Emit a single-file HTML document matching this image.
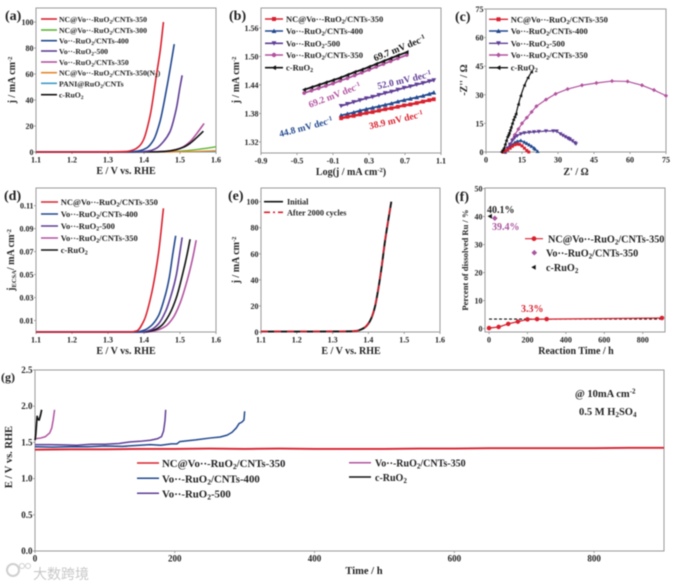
<!DOCTYPE html>
<html>
<head>
<meta charset="utf-8">
<style>
html,body{margin:0;padding:0;background:#fff;width:680px;height:586px;overflow:hidden}
svg{display:block;filter:blur(.45px)}
text{font-family:"Liberation Serif","Noto Serif CJK SC",serif;font-weight:bold;fill:#222}
.l8{font-size:7.7px}.l9{font-size:8.5px}.t{font-size:10px}.s{font-size:9.5px}.p{font-size:14px}.g{font-size:10.8px}.f{font-size:10.2px}
</style>
</head>
<body>
<svg id="figure" width="680" height="586" viewBox="0 0 680 586" xmlns="http://www.w3.org/2000/svg">
<g id="marks"></g>
<g>
<text class="p" x="5" y="20">(a)</text>
<text class="p" x="229" y="20">(b)</text>
<text class="p" x="455" y="21">(c)</text>
<text class="p" x="4" y="200">(d)</text>
<text class="p" x="228" y="200">(e)</text>
<text class="p" x="455" y="201">(f)</text>
<text style="font-size:12px" x="1" y="381">(g)</text>
</g>
<g>
<text class="t" x="126" y="174" text-anchor="middle">E / V vs. RHE</text>
<text class="t" transform="translate(15,80) rotate(-90)" text-anchor="middle">j / mA cm<tspan dy="-3" font-size="6.5">-2</tspan></text>
<text class="t" x="351" y="175" text-anchor="middle">Log(j / mA cm<tspan dy="-3" font-size="6.5">-2</tspan><tspan dy="3">)</tspan></text>
<text class="t" transform="translate(239,80) rotate(-90)" text-anchor="middle">j / mA cm<tspan dy="-3" font-size="6.5">-2</tspan></text>
<text class="t" x="576" y="175" text-anchor="middle">Z' / Ω</text>
<text class="t" transform="translate(467,80) rotate(-90)" text-anchor="middle">-Z'' / Ω</text>
<text class="t" x="126" y="354" text-anchor="middle">E / V vs. RHE</text>
<text class="t" transform="translate(14,260) rotate(-90)" text-anchor="middle">j<tspan dy="2" font-size="6.5">ECSA</tspan><tspan dy="-2">/ mA cm</tspan><tspan dy="-3" font-size="6.5">-2</tspan></text>
<text class="t" x="351" y="354" text-anchor="middle">E / V vs. RHE</text>
<text class="t" transform="translate(239,260) rotate(-90)" text-anchor="middle">j / mA cm<tspan dy="-3" font-size="6.5">-2</tspan></text>
<text class="t" x="576" y="354" text-anchor="middle">Reaction Time / h</text>
<text style="font-size:8.6px" transform="translate(468,260) rotate(-90)" text-anchor="middle">Percent of dissolved Ru / %</text>
<text style="font-size:10.5px" x="364" y="574" text-anchor="middle">Time / h</text>
<text style="font-size:10.5px" transform="translate(12,457) rotate(-90)" text-anchor="middle">E / V vs. RHE</text>
</g>
<g>
<path d="M41 19H57" stroke="#d9202e" stroke-width="1.6"/><path d="M41 30H57" stroke="#5cb531" stroke-width="1.6"/><path d="M41 40.7H57" stroke="#21488f" stroke-width="1.6"/><path d="M41 51H57" stroke="#5f3e96" stroke-width="1.6"/><path d="M41 62H57" stroke="#b2529f" stroke-width="1.6"/><path d="M41 72.7H57" stroke="#e8872b" stroke-width="1.6"/><path d="M41 83.3H57" stroke="#3d9cc9" stroke-width="1.6"/><path d="M41 94.7H57" stroke="#111" stroke-width="1.6"/>
<text class="l8" x="59" y="22">NC@Vo··-RuO<tspan dy="1.5" font-size="5.5">2</tspan><tspan dy="-1.5">/CNTs-350</tspan></text>
<text class="l8" x="59" y="33">NC@Vo··-RuO<tspan dy="1.5" font-size="5.5">2</tspan><tspan dy="-1.5">/CNTs-300</tspan></text>
<text class="l8" x="59" y="43.7">Vo··-RuO<tspan dy="1.5" font-size="5.5">2</tspan><tspan dy="-1.5">/CNTs-400</tspan></text>
<text class="l8" x="59" y="54">Vo··-RuO<tspan dy="1.5" font-size="5.5">2</tspan><tspan dy="-1.5">-500</tspan></text>
<text class="l8" x="59" y="65">Vo··-RuO<tspan dy="1.5" font-size="5.5">2</tspan><tspan dy="-1.5">/CNTs-350</tspan></text>
<text class="l8" x="59" y="75.7">NC@Vo··-RuO<tspan dy="1.5" font-size="5.5">2</tspan><tspan dy="-1.5">/CNTs-350(N</tspan><tspan dy="1.5" font-size="5.5">2</tspan><tspan dy="-1.5">)</tspan></text>
<text class="l8" x="59" y="86.3">PANI@RuO<tspan dy="1.5" font-size="5.5">2</tspan><tspan dy="-1.5">/CNTs</tspan></text>
<text class="l8" x="59" y="97.7">c-RuO<tspan dy="1.5" font-size="5.5">2</tspan></text>
</g>
<g>
<path d="M265 19H283" stroke="#d9202e" stroke-width="1.6"/><rect x="272" y="17" width="4" height="4" fill="#d9202e"/>
<path d="M265 31H283" stroke="#21488f" stroke-width="1.6"/><polygon points="274,28.6 276.4,33 271.6,33" fill="#21488f"/>
<path d="M265 43.3H283" stroke="#5f3e96" stroke-width="1.6"/><polygon points="274,45.7 276.4,41.3 271.6,41.3" fill="#5f3e96"/>
<path d="M265 55H283" stroke="#b2529f" stroke-width="1.6"/><circle cx="274" cy="55" r="2.2" fill="#b2529f"/>
<path d="M265 67.7H283" stroke="#111" stroke-width="1.6"/><polygon points="271.6,67.7 276,65.3 276,70.1" fill="#111"/>
<text class="l9" x="286" y="22">NC@Vo··-RuO<tspan dy="1.5" font-size="6">2</tspan><tspan dy="-1.5">/CNTs-350</tspan></text>
<text class="l9" x="286" y="34">Vo··-RuO<tspan dy="1.5" font-size="6">2</tspan><tspan dy="-1.5">/CNTs-400</tspan></text>
<text class="l9" x="286" y="46.3">Vo··-RuO<tspan dy="1.5" font-size="6">2</tspan><tspan dy="-1.5">-500</tspan></text>
<text class="l9" x="286" y="58">Vo··-RuO<tspan dy="1.5" font-size="6">2</tspan><tspan dy="-1.5">/CNTs-350</tspan></text>
<text class="l9" x="286" y="70.7">c-RuO<tspan dy="1.5" font-size="6">2</tspan></text>
</g>
<g>
<text class="s" style="fill:#111" transform="translate(400.7,51) rotate(-22)" text-anchor="middle">69.7 mV dec<tspan dy="-3" font-size="6.5">-1</tspan></text>
<text class="s" style="fill:#b2529f" transform="translate(335.7,98) rotate(-21)" text-anchor="middle">69.2 mV dec<tspan dy="-3" font-size="6.5">-1</tspan></text>
<text class="s" style="fill:#5f3e96" transform="translate(405,83) rotate(-13)" text-anchor="middle">52.0 mV dec<tspan dy="-3" font-size="6.5">-1</tspan></text>
<text class="s" style="fill:#21488f" transform="translate(306.7,130) rotate(-15)" text-anchor="middle">44.8 mV dec<tspan dy="-3" font-size="6.5">-1</tspan></text>
<text class="s" style="fill:#d9202e" transform="translate(396.7,123) rotate(-13)" text-anchor="middle">38.9 mV dec<tspan dy="-3" font-size="6.5">-1</tspan></text>
</g>
<g>
<path d="M489 19.3H508" stroke="#d9202e" stroke-width="1.4"/><rect x="496.5" y="17.3" width="4" height="4" fill="#d9202e"/>
<path d="M489 31H508" stroke="#21488f" stroke-width="1.4"/><polygon points="498.5,28.6 500.9,33 496.1,33" fill="#21488f"/>
<path d="M489 43.3H508" stroke="#5f3e96" stroke-width="1.4"/><polygon points="498.5,45.7 500.9,41.3 496.1,41.3" fill="#5f3e96"/>
<path d="M489 55H508" stroke="#b2529f" stroke-width="1.4"/><polygon points="498.5,52.5 501,55 498.5,57.5 496,55" fill="#b2529f"/>
<path d="M489 67.7H508" stroke="#111" stroke-width="1.4"/><polygon points="496,67.7 500.4,65.3 500.4,70.1" fill="#111"/>
<text class="l9" x="510.7" y="22.3">NC@Vo··-RuO<tspan dy="1.5" font-size="6">2</tspan><tspan dy="-1.5">/CNTs-350</tspan></text>
<text class="l9" x="510.7" y="34">Vo··-RuO<tspan dy="1.5" font-size="6">2</tspan><tspan dy="-1.5">/CNTs-400</tspan></text>
<text class="l9" x="510.7" y="46.3">Vo··-RuO<tspan dy="1.5" font-size="6">2</tspan><tspan dy="-1.5">-500</tspan></text>
<text class="l9" x="510.7" y="58">Vo··-RuO<tspan dy="1.5" font-size="6">2</tspan><tspan dy="-1.5">/CNTs-350</tspan></text>
<text class="l9" x="510.7" y="70.7">c-RuO<tspan dy="1.5" font-size="6">2</tspan></text>
</g>
<g>
<path d="M41 202H58" stroke="#d9202e" stroke-width="1.6"/><path d="M41 214H58" stroke="#21488f" stroke-width="1.6"/><path d="M41 226H58" stroke="#5f3e96" stroke-width="1.6"/><path d="M41 238H58" stroke="#b2529f" stroke-width="1.6"/><path d="M41 250H58" stroke="#111" stroke-width="1.6"/>
<text class="l9" x="60.7" y="205">NC@Vo··-RuO<tspan dy="1.5" font-size="6">2</tspan><tspan dy="-1.5">/CNTs-350</tspan></text>
<text class="l9" x="60.7" y="217">Vo··-RuO<tspan dy="1.5" font-size="6">2</tspan><tspan dy="-1.5">/CNTs-400</tspan></text>
<text class="l9" x="60.7" y="229">Vo··-RuO<tspan dy="1.5" font-size="6">2</tspan><tspan dy="-1.5">-500</tspan></text>
<text class="l9" x="60.7" y="241">Vo··-RuO<tspan dy="1.5" font-size="6">2</tspan><tspan dy="-1.5">/CNTs-350</tspan></text>
<text class="l9" x="60.7" y="253">c-RuO<tspan dy="1.5" font-size="6">2</tspan></text>
</g>
<g>
<path d="M264 201.7H283" stroke="#111" stroke-width="1.6"/>
<path d="M264 212.3H283" stroke="#d9202e" stroke-width="1.6" stroke-dasharray="6 3 2 3"/>
<text style="font-size:8.2px" x="287" y="204.7">Initial</text>
<text style="font-size:8.2px" x="287" y="215.3">After 2000 cycles</text>
</g>
<g>
<path d="M525 238.7H543" stroke="#d9202e" stroke-width="1.2"/><circle cx="534" cy="238.7" r="2.4" fill="#d9202e"/>
<polygon points="534.3,249.9 537.1,252.7 534.3,255.5 531.5,252.7" fill="#a9559f"/>
<polygon points="531.3,267.3 535.7,264.9 535.7,269.7" fill="#111"/>
<text class="f" x="548" y="242.5">NC@Vo··-RuO<tspan dy="2" font-size="7">2</tspan><tspan dy="-2">/CNTs-350</tspan></text>
<text class="f" x="546" y="256.5">Vo··-RuO<tspan dy="2" font-size="7">2</tspan><tspan dy="-2">/CNTs-350</tspan></text>
<text class="f" x="546" y="271">c-RuO<tspan dy="2" font-size="7">2</tspan></text>
<text style="font-size:10px;fill:#222" x="487" y="213">40.1%</text>
<text style="font-size:10px;fill:#a9559f" x="492" y="230">39.4%</text>
<text style="font-size:10px;fill:#d9202e" x="521" y="312">3.3%</text>
</g>
<g>
<path d="M137 463H159" stroke="#d9202e" stroke-width="1.5"/><path d="M137 478.3H159" stroke="#21488f" stroke-width="1.5"/><path d="M137 493.3H159" stroke="#5f3e96" stroke-width="1.5"/><path d="M349 462.7H371" stroke="#b2529f" stroke-width="1.5"/><path d="M349 477H371" stroke="#111" stroke-width="1.5"/>
<text class="g" x="162" y="467">NC@Vo··-RuO<tspan dy="2" font-size="7.5">2</tspan><tspan dy="-2">/CNTs-350</tspan></text>
<text class="g" x="162" y="482.3">Vo··-RuO<tspan dy="2" font-size="7.5">2</tspan><tspan dy="-2">/CNTs-400</tspan></text>
<text class="g" x="162" y="497.3">Vo··-RuO<tspan dy="2" font-size="7.5">2</tspan><tspan dy="-2">-500</tspan></text>
<text class="g" style="font-size:10px" x="375" y="466.5">Vo··-RuO<tspan dy="2" font-size="7">2</tspan><tspan dy="-2">/CNTs-350</tspan></text>
<text class="g" style="font-size:10px" x="375" y="481">c-RuO<tspan dy="2" font-size="7">2</tspan></text>
<text style="font-size:10.5px" x="575" y="397">@ 10mA cm<tspan dy="-3.5" font-size="7">-2</tspan></text>
<text style="font-size:10.5px" x="579" y="415">0.5 M H<tspan dy="2" font-size="7">2</tspan><tspan dy="-2">SO</tspan><tspan dy="2" font-size="7">4</tspan></text>
</g>
<g>
<circle cx="13" cy="570" r="6" fill="none" stroke="#cfcfcf" stroke-width="2"/>
<circle cx="22" cy="566" r="2.5" fill="none" stroke="#cfcfcf" stroke-width="1"/>
<circle cx="28" cy="566" r="2.5" fill="none" stroke="#cfcfcf" stroke-width="1"/>
<text style="font-family:'Noto Sans CJK SC',sans-serif;font-size:14px;font-weight:normal;fill:#c8c8c8" x="33" y="579">大数跨境</text>
</g>
</svg>
<script>
// Panel (a) LSV
const aRedE=[1.1,1.2,1.3,1.35,1.37,1.385,1.398,1.417,1.435,1.445,1.454];
const aRedJ=[0,0,0.1,0.3,1.5,4,9,28,60,78,100];
const aBlueE=[1.1,1.3,1.37,1.389,1.407,1.426,1.444,1.463,1.475,1.484];
const aBlueJ=[0,0.1,0.3,1,3,9,23,49,68,83];
const aPurpleE=[1.1,1.3,1.39,1.417,1.435,1.454,1.472,1.49,1.5,1.506];
const aPurpleJ=[0,0.1,0.2,1,3,8,15.6,33.6,50,59];
const aPinkE=[1.1,1.3,1.42,1.46,1.49,1.509,1.528,1.546,1.567];
const aPinkJ=[0,0,0.2,0.5,2,4,8,14,22];
const aBlackE=[1.1,1.3,1.435,1.46,1.49,1.509,1.528,1.546,1.565];
const aBlackJ=[0,0,0.1,0.5,1.8,3.6,6.7,11,16];
const aGreenE=[1.1,1.4,1.45,1.5,1.55,1.6];
const aGreenJ=[0,0,0.1,0.7,2,4];
const aOrangeE=[1.1,1.45,1.5,1.55,1.6];
const aOrangeJ=[0,0,0.2,0.5,1];
const aCyanE=[1.1,1.5,1.6];
const aCyanJ=[0,0.1,0.4];
// Panel (b) Tafel
const bXLong=[-0.42,-0.34,-0.26,-0.18,-0.10,-0.02,0.06,0.14,0.22,0.30,0.38,0.46,0.54,0.62,0.72];
const bBlack=[1.430,1.435,1.440,1.445,1.450,1.455,1.461,1.467,1.472,1.478,1.484,1.490,1.496,1.502,1.509];
const bPink=[1.423,1.428,1.433,1.438,1.443,1.449,1.454,1.460,1.466,1.472,1.478,1.484,1.490,1.496,1.503];
const bXShort=[-0.01,0.06,0.13,0.20,0.27,0.34,0.41,0.48,0.55,0.62,0.69,0.76,0.83,0.90,0.97,1.02];
const bPurple=[1.396,1.400,1.404,1.408,1.412,1.415,1.419,1.423,1.426,1.430,1.434,1.437,1.441,1.444,1.448,1.450];
const bBlue=[1.376,1.379,1.382,1.386,1.389,1.392,1.395,1.398,1.401,1.405,1.408,1.411,1.414,1.417,1.421,1.424];
const bRed=[1.370,1.373,1.375,1.378,1.381,1.383,1.386,1.389,1.391,1.394,1.397,1.399,1.402,1.405,1.408,1.410];
// Panel (c) Nyquist
const cRedX=[7,8,9,10,11,12,13,14,15,16,17,17.8];
const cRedY=[0,0.5,1.2,2,3,3.8,4.1,4,3.2,2,0.8,0];
const cBlueX=[8,9,10,11,12,13,14.5,16,17,18,19,20,20.5,21.5];
const cBlueY=[0,1.2,2.5,3.8,5,5.6,6,5.2,4.5,3.8,3,2.1,1.5,0.3];
const cPurpleX=[8,9,10,11,12,13,14.5,16,18,20,22,25,28,29.5,31,32,33,34,34.5,35,36,37,37.5];
const cPurpleY=[0,2,4,6,7.5,8.5,9.5,10,10.3,10.5,10.7,11,11,10.9,9.5,8.7,8,7.3,7,6.6,5.8,4.8,4.3];
const cPinkX=[8,9,10,11,12,13.5,15,17,19,21,25,29,34,40,46,52.5,59,65,70,75];
const cPinkY=[0,2,4,6.5,9,12,15,18,21,24,27.5,30.5,33,35,36.2,37.2,37,35,32.5,29.5];
const cBlackX=[6.5,7,7.5,8,8.5,9,9.4,9.7,10.1,10.5,11,11.5,12,12.5,13.5,14.5,16,17.5,19];
const cBlackY=[0,1,2,4,6,8,9,10,11.5,13,15,17,18.5,20,25,29.5,35,39,42];
// Panel (d) ECSA normalized
const dRedE=[1.1,1.36,1.38,1.40,1.42,1.44,1.454];
const dRedJ=[0,0,0.001,0.01,0.032,0.068,0.1077];
const dBlueE=[1.1,1.38,1.40,1.42,1.44,1.46,1.47,1.48,1.488];
const dBlueJ=[0,0,0.0015,0.0055,0.014,0.033,0.047,0.068,0.0838];
const dPurpleE=[1.1,1.39,1.42,1.44,1.46,1.48,1.49,1.50,1.506];
const dPurpleJ=[0,0,0.002,0.007,0.018,0.037,0.05,0.07,0.0824];
const dBlackE=[1.1,1.40,1.43,1.45,1.47,1.49,1.51,1.52,1.528];
const dBlackJ=[0,0,0.002,0.006,0.015,0.03,0.054,0.068,0.0808];
const dPinkE=[1.1,1.41,1.44,1.46,1.48,1.50,1.52,1.535,1.545];
const dPinkJ=[0,0,0.002,0.005,0.012,0.025,0.045,0.064,0.08];
// Panel (e) stability
const eE=[1.1,1.2,1.3,1.35,1.37,1.38,1.39,1.40,1.408,1.418,1.427,1.437,1.446,1.455,1.464];
const eInitial=[0.3,0.3,0.4,0.5,1,2,3.5,6.5,10.5,19,32,50,69,85,100];
const eAfter=[0.3,0.3,0.4,0.5,1,2,3.6,6.8,10.8,19.5,32.5,50.5,69.5,85,100];
// Panel (f) dissolved Ru
const fTime=[0,50,100,150,200,250,300,900];
const fNc=[0.2,0.6,1.7,2.5,3.3,3.4,3.4,3.8];
const fDashTime=[0,900];
const fDash=[3.4,3.4];
const fPinkTime=[30];
const fPink=[39.4];
const fBlackTime=[5];
const fBlack=[40.1];
// Panel (g) chronopotentiometry
const gRedT=[0,50,100,150,200,250,300,350,400,450,500,550,600,650,700,750,800,850,900];
const gRedV=[1.40,1.405,1.405,1.41,1.41,1.415,1.41,1.415,1.41,1.41,1.41,1.415,1.415,1.42,1.42,1.42,1.42,1.425,1.425];
const gBlueT=[0,25,50,75,100,125,150,165,180,195,203,207,215,230,250,265,275,282,288,292,296,299,300];
const gBlueV=[1.44,1.435,1.44,1.44,1.45,1.445,1.46,1.47,1.46,1.48,1.48,1.51,1.52,1.535,1.56,1.575,1.6,1.64,1.70,1.76,1.78,1.81,1.93];
const gPurpleT=[0,20,40,60,80,100,120,135,150,165,175,181,184,186,187];
const gPurpleV=[1.47,1.47,1.465,1.46,1.475,1.475,1.485,1.505,1.515,1.53,1.55,1.58,1.66,1.8,1.95];
const gPinkT=[0,8,15,21,24,26,27,28];
const gPinkV=[1.55,1.56,1.58,1.63,1.70,1.81,1.88,1.95];
const gBlackT=[0,1,3,4,6,8,9.5];
const gBlackV=[1.53,1.6,1.86,1.82,1.81,1.88,1.95];
// Tick labels
const tickE=['1.1','1.2','1.3','1.4','1.5','1.6'];
const tickJ=['0','20','40','60','80','100'];
const tickLog=['-0.9','-0.5','-0.1','0.3','0.7','1.1'];
const tickTafel=['1.32','1.38','1.44','1.50','1.56'];
const tickZ=['0','15','30','45','60','75'];
const tickEcsa=['0.01','0.03','0.05','0.07','0.09','0.11'];
const tickHours=['0','200','400','600','800'];
const tickPercent=['0','10','20','30','40','50'];
const tickVolts=['0.0','0.5','1.0','1.5','2.0','2.5'];

const RED='#d9202e',BLUE='#21488f',PURPLE='#5f3e96',PINK='#b2529f',BLACK='#111',GREEN='#5cb531',ORANGE='#e8872b',CYAN='#3d9cc9';
const NS='http://www.w3.org/2000/svg';
const root=document.getElementById('marks');

const panelA={id:'a',l:36,r:216,t:8,b:152,x0:1.1,x1:1.6,y0:0,y1:110.8,fs:8};
const panelB={id:'b',l:261,r:441,t:8,b:153,x0:-0.9,x1:1.1,y0:1.2968,y1:1.602,fs:8};
const panelC={id:'c',l:486,r:666,t:9,b:152,x0:0,x1:75,y0:0,y1:75,fs:8};
const panelD={id:'d',l:36,r:216,t:188,b:332,x0:1.1,x1:1.6,y0:0,y1:0.1254,fs:8};
const panelE={id:'e',l:261,r:440,t:188,b:332,x0:1.1,x1:1.6,y0:0,y1:110.5,fs:8};
const panelF={id:'f',l:485,r:665,t:188,b:332,x0:-21,x1:916,y0:-1.2,y1:50.2,fs:8};
const panelG={id:'g',l:35,r:664,t:370,b:551,x0:0,x1:900,y0:0,y1:2.5,fs:9};

function sx(p,v){return p.l+(v-p.x0)/(p.x1-p.x0)*(p.r-p.l);}
function sy(p,v){return p.b-(v-p.y0)/(p.y1-p.y0)*(p.b-p.t);}

function drawAxes(p,xLabels,yLabels){
  const frame=document.createElementNS(NS,'rect');
  
  
  frame.setAttribute('x',p.l);frame.setAttribute('y',p.t);
  frame.setAttribute('width',p.r-p.l);frame.setAttribute('height',p.b-p.t);
  frame.setAttribute('fill','none');frame.setAttribute('stroke','#9a9a9a');frame.setAttribute('stroke-width','1');
  root.appendChild(frame);
  xLabels.forEach(function(s){
    const x=sx(p,Number(s));
    const tick=document.createElementNS(NS,'path');
    
    
    tick.setAttribute('d','M'+x+' '+p.b+'V'+(p.b+2));
    tick.setAttribute('stroke','#9a9a9a');
    root.appendChild(tick);
    const label=document.createElementNS(NS,'text');
    
    
    label.setAttribute('x',x);label.setAttribute('y',p.b+10.5);
    label.setAttribute('text-anchor','middle');
    label.setAttribute('font-size',p.fs);
    label.textContent=s;
    root.appendChild(label);
  });
  yLabels.forEach(function(s){
    const y=sy(p,Number(s));
    const tick=document.createElementNS(NS,'path');
    
    
    tick.setAttribute('d','M'+(p.l-2)+' '+y+'H'+p.l);
    tick.setAttribute('stroke','#9a9a9a');
    root.appendChild(tick);
    const label=document.createElementNS(NS,'text');
    
    
    label.setAttribute('x',p.l-2.5);label.setAttribute('y',y+3);
    label.setAttribute('text-anchor','end');
    label.setAttribute('font-size',p.fs);
    label.textContent=s;
    root.appendChild(label);
  });
}

function drawLine(p,xs,ys,color,width,name,dash){
  const line=document.createElementNS(NS,'polyline');
  
  
  line.setAttribute('points',xs.map(function(v,i){return sx(p,v).toFixed(2)+','+sy(p,ys[i]).toFixed(2);}).join(' '));
  line.setAttribute('fill','none');
  line.setAttribute('stroke',color);
  line.setAttribute('stroke-width',width);
  line.setAttribute('stroke-linejoin','round');
  if(dash){line.setAttribute('stroke-dasharray',dash);}
  root.appendChild(line);
}

// Smooth curve through the data points using monotone cubic tangents
function drawCurve(p,xs,ys,color,width,name,dash){
  const px=xs.map(function(v){return sx(p,v);});
  const py=ys.map(function(v){return sy(p,v);});
  const n=px.length;
  const sec=[];
  for(let i=0;i<n-1;i++){sec.push((py[i+1]-py[i])/(px[i+1]-px[i]));}
  const tan=[sec[0]];
  for(let i=1;i<n-1;i++){
    const a=sec[i-1],b=sec[i];
    tan.push(a*b<=0?0:2*a*b/(a+b));
  }
  tan.push(sec[n-2]);
  let d='M'+px[0].toFixed(2)+' '+py[0].toFixed(2);
  for(let i=0;i<n-1;i++){
    const h=(px[i+1]-px[i])/3;
    d+='C'+(px[i]+h).toFixed(2)+' '+(py[i]+tan[i]*h).toFixed(2)+' '+(px[i+1]-h).toFixed(2)+' '+(py[i+1]-tan[i+1]*h).toFixed(2)+' '+px[i+1].toFixed(2)+' '+py[i+1].toFixed(2);
  }
  const curve=document.createElementNS(NS,'path');
  
  
  curve.setAttribute('d',d);
  curve.setAttribute('fill','none');
  curve.setAttribute('stroke',color);
  curve.setAttribute('stroke-width',width);
  if(dash){curve.setAttribute('stroke-dasharray',dash);}
  root.appendChild(curve);
}

function drawMarkers(p,xs,ys,color,kind,r,name){
  xs.forEach(function(v,i){
    const cx=sx(p,v),cy=sy(p,ys[i]);
    const m=document.createElementNS(NS,'polygon');
    
    
    let pts;
    if(kind==='square'){pts=[[-r,-r],[r,-r],[r,r],[-r,r]];}
    else if(kind==='up'){pts=[[0,-r],[r,r*.8],[-r,r*.8]];}
    else if(kind==='down'){pts=[[0,r],[r,-r*.8],[-r,-r*.8]];}
    else if(kind==='left'){pts=[[-r,0],[r*.8,-r],[r*.8,r]];}
    else if(kind==='diamond'){pts=[[0,-r],[r,0],[0,r],[-r,0]];}
    else{pts=[[0,-r],[r*.7,-r*.7],[r,0],[r*.7,r*.7],[0,r],[-r*.7,r*.7],[-r,0],[-r*.7,-r*.7]];}
    m.setAttribute('points',pts.map(function(q){return (cx+q[0]).toFixed(2)+','+(cy+q[1]).toFixed(2);}).join(' '));
    m.setAttribute('fill',color);
    root.appendChild(m);
  });
}

drawAxes(panelA,tickE,tickJ);
drawAxes(panelB,tickLog,tickTafel);
drawAxes(panelC,tickZ,tickZ);
drawAxes(panelD,tickE,tickEcsa);
drawAxes(panelE,tickE,tickJ);
drawAxes(panelF,tickHours,tickPercent);
drawAxes(panelG,tickHours,tickVolts);

drawCurve(panelA,aGreenE,aGreenJ,GREEN,1.3,'series-a-nc-300');
drawCurve(panelA,aCyanE,aCyanJ,CYAN,1.3,'series-a-pani');
drawCurve(panelA,aOrangeE,aOrangeJ,ORANGE,1.3,'series-a-nc-350-n2');
drawCurve(panelA,aPinkE,aPinkJ,PINK,1.6,'series-a-cnts-350');
drawCurve(panelA,aBlackE,aBlackJ,BLACK,1.6,'series-a-c-ruo2');
drawCurve(panelA,aPurpleE,aPurpleJ,PURPLE,1.6,'series-a-500');
drawCurve(panelA,aBlueE,aBlueJ,BLUE,1.6,'series-a-cnts-400');
drawCurve(panelA,aRedE,aRedJ,RED,1.6,'series-a-nc-350');

drawLine(panelB,bXLong,bPink,PINK,1.8,'series-b-cnts-350');
drawMarkers(panelB,bXLong,bPink,PINK,'circle',2,'marker-b-cnts-350');
drawLine(panelB,bXLong,bBlack,BLACK,1.8,'series-b-c-ruo2');
drawMarkers(panelB,bXLong,bBlack,BLACK,'left',2.2,'marker-b-c-ruo2');
drawLine(panelB,bXShort,bPurple,PURPLE,1.8,'series-b-500');
drawMarkers(panelB,bXShort,bPurple,PURPLE,'down',2.4,'marker-b-500');
drawLine(panelB,bXShort,bBlue,BLUE,1.8,'series-b-cnts-400');
drawMarkers(panelB,bXShort,bBlue,BLUE,'up',2.4,'marker-b-cnts-400');
drawLine(panelB,bXShort,bRed,RED,2.4,'series-b-nc-350');
drawMarkers(panelB,bXShort,bRed,RED,'square',1.9,'marker-b-nc-350');

drawLine(panelC,cPinkX,cPinkY,PINK,1.2,'series-c-cnts-350');
drawMarkers(panelC,cPinkX,cPinkY,PINK,'diamond',2.1,'marker-c-cnts-350');
drawLine(panelC,cPurpleX,cPurpleY,PURPLE,1.2,'series-c-500');
drawMarkers(panelC,cPurpleX,cPurpleY,PURPLE,'down',2.1,'marker-c-500');
drawLine(panelC,cBlueX,cBlueY,BLUE,1.3,'series-c-cnts-400');
drawMarkers(panelC,cBlueX,cBlueY,BLUE,'up',2,'marker-c-cnts-400');
drawLine(panelC,cRedX,cRedY,RED,1.4,'series-c-nc-350');
drawMarkers(panelC,cRedX,cRedY,RED,'square',1.5,'marker-c-nc-350');
drawLine(panelC,cBlackX,cBlackY,BLACK,1.2,'series-c-c-ruo2');
drawMarkers(panelC,cBlackX,cBlackY,BLACK,'left',1.8,'marker-c-c-ruo2');

drawCurve(panelD,dPinkE,dPinkJ,PINK,1.6,'series-d-cnts-350');
drawCurve(panelD,dBlackE,dBlackJ,BLACK,1.6,'series-d-c-ruo2');
drawCurve(panelD,dPurpleE,dPurpleJ,PURPLE,1.6,'series-d-500');
drawCurve(panelD,dBlueE,dBlueJ,BLUE,1.6,'series-d-cnts-400');
drawCurve(panelD,dRedE,dRedJ,RED,1.6,'series-d-nc-350');

drawCurve(panelE,eE,eInitial,BLACK,1.9,'series-e-initial');
drawCurve(panelE,eE,eAfter,RED,1.6,'series-e-after-2000','7 6');

drawLine(panelF,fDashTime,fDash,BLACK,1.1,'reference-line-f','3 2');
drawLine(panelF,fTime,fNc,RED,1.3,'series-f-nc-350');
drawMarkers(panelF,fTime,fNc,RED,'circle',2.4,'marker-f-nc-350');
drawMarkers(panelF,fPinkTime,fPink,'#a9559f','diamond',2.8,'marker-f-cnts-350');
drawMarkers(panelF,fBlackTime,fBlack,BLACK,'left',2.4,'marker-f-c-ruo2');

drawLine(panelG,gPurpleT,gPurpleV,PURPLE,1.5,'series-g-500');
drawLine(panelG,gBlueT,gBlueV,BLUE,1.5,'series-g-cnts-400');
drawLine(panelG,gPinkT,gPinkV,PINK,1.5,'series-g-cnts-350');
drawLine(panelG,gBlackT,gBlackV,BLACK,1.7,'series-g-c-ruo2');
drawLine(panelG,gRedT,gRedV,RED,1.9,'series-g-nc-350');
</script>
</body>
</html>
